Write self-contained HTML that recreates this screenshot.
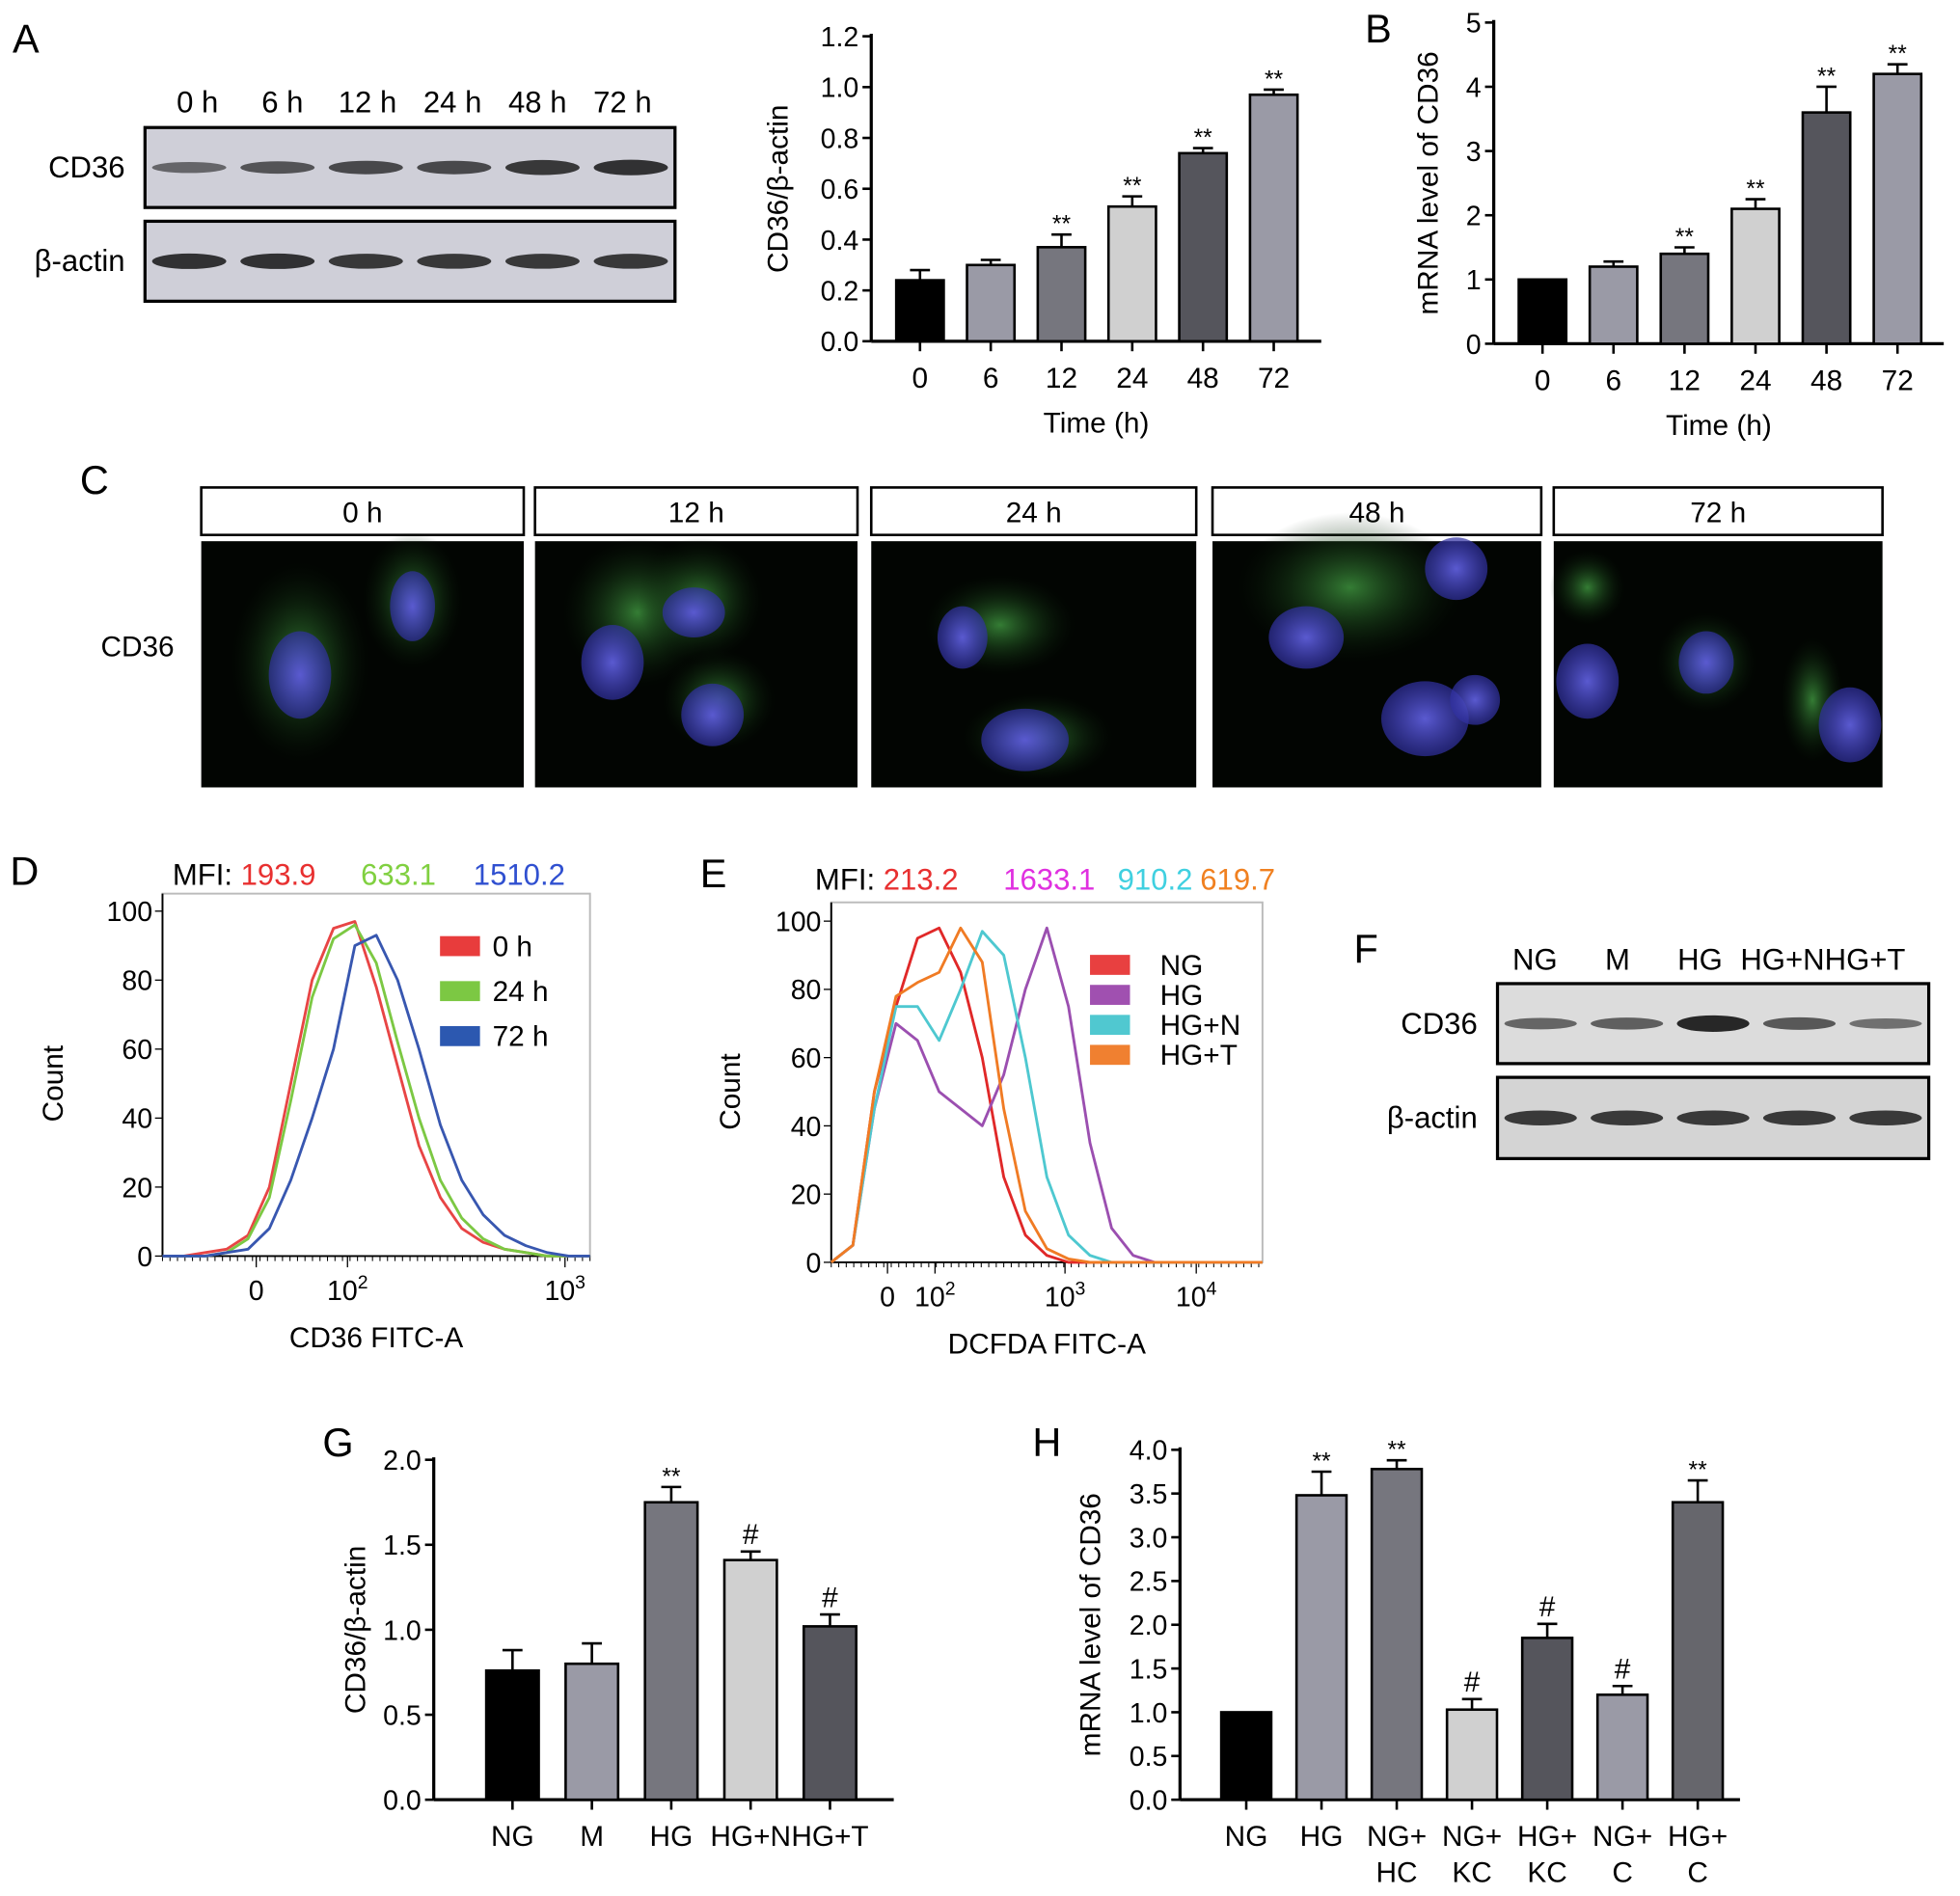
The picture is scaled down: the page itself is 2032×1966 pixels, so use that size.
<!DOCTYPE html>
<html><head><meta charset="utf-8"><style>
html,body{margin:0;padding:0;background:#fff}
svg{display:block;font-family:"Liberation Sans",sans-serif}
</style></head><body>
<svg id="fig" width="2032" height="1966" viewBox="0 0 1568 1517" xmlns="http://www.w3.org/2000/svg">
<defs>
<radialGradient id="gG"><stop offset="0" stop-color="#3a8a3a" stop-opacity="0.9"/><stop offset="1" stop-color="#0a200a" stop-opacity="0"/></radialGradient>
<radialGradient id="gB"><stop offset="0" stop-color="#5a5ad0"/><stop offset="1" stop-color="#3030a0" stop-opacity="0.7"/></radialGradient>
</defs>
<g id="root"></g>
</svg>
<script>
// ---- data ----
const timeCats=["0","6","12","24","48","72"];
const aVals=[0.24,0.30,0.37,0.53,0.74,0.97];
const aErr=[0.04,0.02,0.05,0.04,0.02,0.02];
const aSig=["","","**","**","**","**"];
const aTicks=[0,0.2,0.4,0.6,0.8,1.0,1.2];
const bVals=[1,1.2,1.4,2.1,3.6,4.2];
const bErr=[0,0.08,0.1,0.15,0.4,0.15];
const bSig=["","","**","**","**","**"];
const bTicks=[0,1,2,3,4,5];
const gCats=["NG","M","HG","HG+N","HG+T"];
const gVals=[0.76,0.80,1.75,1.41,1.02];
const gErr=[0.12,0.12,0.09,0.05,0.07];
const gSig=["","","**","#","#"];
const gTicks=[0,0.5,1.0,1.5,2.0];
const hCats=[["NG"],["HG"],["NG+","HC"],["NG+","KC"],["HG+","KC"],["NG+","C"],["HG+","C"]];
const hVals=[1,3.48,3.78,1.03,1.85,1.2,3.4];
const hErr=[0,0.27,0.1,0.12,0.16,0.1,0.25];
const hSig=["","**","**","#","#","#","**"];
const hTicks=[0,0.5,1.0,1.5,2.0,2.5,3.0,3.5,4.0];
const histChan=[0,5,10,15,20,25,30,35,40,45,50,55,60,65,70,75,80,85,90,95,100];
const d0h=[0,0,1,2,6,20,50,80,95,97,78,55,32,17,8,4,2,1,0,0,0];
const d24h=[0,0,0,1,5,17,45,75,92,96,85,62,40,22,11,5,2,1,0,0,0];
const d72h=[0,0,0,1,2,8,22,40,60,90,93,80,60,38,22,12,6,3,1,0,0];
const eNG=[0,5,50,75,95,98,85,60,25,8,2,0,0,0,0,0,0,0,0,0,0];
const eHG=[0,5,45,70,65,50,45,40,55,80,98,75,35,10,2,0,0,0,0,0,0];
const eHGN=[0,5,45,75,75,65,80,97,90,60,25,8,2,0,0,0,0,0,0,0,0];
const eHGT=[0,5,50,78,82,85,98,88,45,15,4,1,0,0,0,0,0,0,0,0,0];
const countTicks=[0,20,40,60,80,100];

const NS="http://www.w3.org/2000/svg";
const root=document.getElementById('root');
function mk(tag,attrs,parent,txt){const e=document.createElementNS(NS,tag);for(const k in attrs)e.setAttribute(k,attrs[k]);if(txt!==undefined)e.textContent=txt;(parent||root).appendChild(e);return e;}
function txt(x,y,s,size,name,anchor,fill,extra){const t=mk('text',Object.assign({x:x,y:y,'font-size':size,'text-anchor':anchor||'middle',fill:fill||'#000'},extra||{}),root,s);


return t;}

[["A",10,42],["B",1092,34],["C",64,395],["D",8,708],["E",560,710],["F",1083,770],["G",258,1165],["H",826,1165]].forEach(p=>{txt(p[1],p[2],p[0],32,'panel-label-'+p[0].toLowerCase(),'start');});

function barChart(o){
  const y=v=>o.y0-(v-o.min)/(o.max-o.min)*(o.y0-o.y1);
  const g=mk('g',{});
  
  
  mk('line',{x1:o.ax,y1:o.y0,x2:o.ax,y2:o.y1-2,stroke:'#000','stroke-width':2.5},g);
  mk('line',{x1:o.ax,y1:o.y0,x2:o.axEnd,y2:o.y0,stroke:'#000','stroke-width':2.5},g);
  o.ticks.forEach(t=>{mk('line',{x1:o.ax-7,y1:y(t),x2:o.ax,y2:y(t),stroke:'#000','stroke-width':2},g);
    const tl=txt(o.ax-10,y(t)+8,o.fmt(t),22,'y-tick-label','end');g.appendChild(tl);});
  o.vals.forEach((v,i)=>{
    const cx=o.x0+i*o.step;
    const r=mk('rect',{x:cx-o.bw/2,y:y(v),width:o.bw,height:o.y0-y(v),fill:o.colors[i],stroke:'#000','stroke-width':2},g);
    
    
    if(o.err[i]>0){const ye=y(v+o.err[i]);
      mk('line',{x1:cx,y1:y(v),x2:cx,y2:ye,stroke:'#000','stroke-width':2},g);
      mk('line',{x1:cx-8,y1:ye,x2:cx+8,y2:ye,stroke:'#000','stroke-width':2},g);}
    if(o.sig[i]){const s=txt(cx,y(v+o.err[i])-(o.sig[i]=='#'?6:2),o.sig[i],o.sig[i]=='#'?23:19,'significance-mark');g.appendChild(s);}
    mk('line',{x1:cx,y1:o.y0,x2:cx,y2:o.y0+8,stroke:'#000','stroke-width':2},g);
    const lab=Array.isArray(o.cats[i])?o.cats[i]:[o.cats[i]];
    lab.forEach((l,k)=>{const t=txt(cx,o.y0+37+k*29,l,23,'x-tick-label');g.appendChild(t);});
  });
  if(o.xtitle){const t=txt((o.ax+o.axEnd)/2,o.y0+73,o.xtitle,23,'x-axis-title');g.appendChild(t);}
  const yt=txt(0,0,o.ytitle,23,'y-axis-title','middle','#000',{transform:`translate(${o.ytx},${(o.y0+o.y1)/2}) rotate(-90)`});g.appendChild(yt);
}
const fmt1=t=>t.toFixed(1);
barChart({name:'chart-a-protein',ax:697,axEnd:1057,y0:273,y1:29,min:0,max:1.2,ticks:aTicks,fmt:fmt1,vals:aVals,err:aErr,sig:aSig,cats:timeCats,x0:736,step:56.6,bw:38,
 colors:['#000','#9a9aa6','#76767e','#d0d0d0','#55555c','#9a9aa6'],xtitle:'Time (h)',ytitle:'CD36/β-actin',ytx:630});
barChart({name:'chart-b-mrna',ax:1195,axEnd:1555,y0:275,y1:18,min:0,max:5,ticks:bTicks,fmt:t=>String(t),vals:bVals,err:bErr,sig:bSig,cats:timeCats,x0:1234,step:56.8,bw:38,
 colors:['#000','#9a9aa6','#76767e','#d0d0d0','#55555c','#9a9aa6'],xtitle:'Time (h)',ytitle:'mRNA level of CD36',ytx:1150});
barChart({name:'chart-g-protein',ax:347,axEnd:715,y0:1440,y1:1168,min:0,max:2,ticks:gTicks,fmt:fmt1,vals:gVals,err:gErr,sig:gSig,cats:gCats,x0:410,step:63.5,bw:42,
 colors:['#000','#9a9aa6','#76767e','#d0d0d0','#55555c'],ytitle:'CD36/β-actin',ytx:292});
barChart({name:'chart-h-mrna',ax:944,axEnd:1392,y0:1440,y1:1160,min:0,max:4,ticks:hTicks,fmt:fmt1,vals:hVals,err:hErr,sig:hSig,cats:hCats,x0:997,step:60.2,bw:40,
 colors:['#000','#9a9aa6','#76767e','#d0d0d0','#55555c','#9a9aa6','#66666c'],ytitle:'mRNA level of CD36',ytx:880});

function blot(name,x,y,w,h,labels,label,intens,bg){
  const g=mk('g',{});
  
  
  mk('rect',{x:x,y:y,width:w,height:h,fill:bg,stroke:'#000','stroke-width':2.5},g);
  const n=intens.length,sw=w/n;
  intens.forEach((v,i)=>{mk('ellipse',{cx:x+sw*(i+0.5),cy:y+h*0.5,rx:sw*0.42,ry:3+4*v,fill:'#111','fill-opacity':0.35+0.6*v},g);});
  const t=txt(x-16,y+h/2+8,label,24,'blot-row-label','end');g.appendChild(t);
}
const aLanes=["0 h","6 h","12 h","24 h","48 h","72 h"];
aLanes.forEach((l,i)=>txt(158+i*68,90,l,24,'lane-label'));
blot('blot-a-cd36',116,102,424,64,aLanes,'CD36',[0.35,0.5,0.6,0.6,0.75,0.8],'#cfcfd8');
blot('blot-a-actin',116,177,424,64,aLanes,'β-actin',[0.8,0.8,0.75,0.75,0.75,0.75],'#cfcfd8');
const fLanes=["NG","M","HG","HG+N","HG+T"];
fLanes.forEach((l,i)=>txt(1228+i*66,776,l,24,'lane-label'));
blot('blot-f-cd36',1198,787,345,64,fLanes,'CD36',[0.4,0.45,0.9,0.5,0.3],'#dcdcdc');
blot('blot-f-actin',1198,862,345,65,fLanes,'β-actin',[0.75,0.75,0.75,0.75,0.75],'#d4d4d4');

const cPanels=[[161,419,"0 h"],[428,686,"12 h"],[697,957,"24 h"],[970,1233,"48 h"],[1243,1506,"72 h"]];
const cells=[[[240,530,55,80,'g'],[240,540,25,35,'b'],[330,480,40,55,'g'],[330,485,18,28,'b']],
 [[510,490,60,60,'g'],[490,530,25,30,'b'],[560,480,50,50,'g'],[555,490,25,20,'b'],[575,560,45,40,'g'],[570,572,25,25,'b']],
 [[800,500,60,40,'g'],[770,510,20,25,'b'],[830,590,60,35,'g'],[820,592,35,25,'b']],
 [[1080,470,90,60,'g'],[1045,510,30,25,'b'],[1165,455,25,25,'b'],[1140,575,35,30,'b'],[1180,560,20,20,'b']],
 [[1270,470,30,30,'g'],[1270,545,25,30,'b'],[1365,530,40,40,'g'],[1365,530,22,25,'b'],[1450,560,25,50,'g'],[1480,580,25,30,'b']]];
cPanels.forEach((p,i)=>{
  const b=mk('rect',{x:p[0],y:390,width:p[1]-p[0],height:38,fill:'#fff',stroke:'#000','stroke-width':2});
  
  
  txt((p[0]+p[1])/2,418,p[2],23,'timepoint-label');
  const im=mk('rect',{x:p[0],y:433,width:p[1]-p[0],height:197,fill:'#020502'});
  
  
  cells[i].forEach(c=>mk('ellipse',{cx:c[0],cy:c[1],rx:c[2],ry:c[3],fill:c[4]=='g'?'url(#gG)':'url(#gB)'}));
});
txt(110,525,'CD36',23,'row-label');

function hist(o){
  const g=mk('g',{});
  
  
  const x=c=>o.x0+(c/100)*(o.x1-o.x0);
  const y=v=>o.yb-(v/100)*(o.yb-o.yt);
  mk('rect',{x:o.x0,y:o.boxTop,width:o.x1-o.x0,height:o.yb-o.boxTop,fill:'#fff',stroke:'#bbb','stroke-width':1.5},g);
  mk('line',{x1:o.x0,y1:o.boxTop,x2:o.x0,y2:o.yb,stroke:'#000','stroke-width':1.5},g);
  mk('line',{x1:o.x0,y1:o.yb,x2:o.x1,y2:o.yb,stroke:'#000','stroke-width':1.5},g);
  countTicks.forEach(t=>{mk('line',{x1:o.x0-6,y1:y(t),x2:o.x0,y2:y(t),stroke:'#000'},g);
    g.appendChild(txt(o.x0-8,y(t)+8,String(t),22,'y-tick-label','end'));});
  for(let px=o.x0;px<=o.x1;px+=6)mk('line',{x1:px,y1:o.yb,x2:px,y2:o.yb+4,stroke:'#000','stroke-width':0.8},g);
  o.xt.forEach(t=>{mk('line',{x1:t[0],y1:o.yb,x2:t[0],y2:o.yb+9,stroke:'#000'},g);
    const tt=txt(t[0],o.yb+35,t[1],22,'x-tick-label');if(t[2]){mk('tspan',{dy:-9,'font-size':15},tt,t[2]);}g.appendChild(tt);});
  o.series.forEach(s=>{
    const d=s[0].map((v,i)=>(i?'L':'M')+x(histChan[i]).toFixed(1)+','+y(v).toFixed(1)).join('');
    const p=mk('path',{d:d,fill:'none',stroke:s[1],'stroke-width':2.2,'stroke-linejoin':'round'},g);
    
    
  });
  g.appendChild(txt(0,0,'Count',23,'y-axis-title','middle','#000',{transform:`translate(${o.ytx},${(o.yt+o.yb)/2}) rotate(-90)`}));
  g.appendChild(txt((o.x0+o.x1)/2,o.yb+73,o.xtitle,23,'x-axis-title'));
  o.legend.forEach((l,i)=>{
    const r=mk('rect',{x:o.lx,y:o.ly+i*o.lstep,width:32,height:16,fill:l[1]},g);
    
    
    g.appendChild(txt(o.lx+(o.ltx||42),o.ly+i*o.lstep+16,l[0],23,'legend-entry','start'));
  });
}
hist({name:'histogram-d',x0:130,x1:472,yb:1005,yt:729,boxTop:715,ytx:50,xtitle:'CD36 FITC-A',
 xt:[[205,'0'],[278,'10','2'],[452,'10','3']],
 series:[[d0h,'#e84545','0h'],[d24h,'#7cc843','24h'],[d72h,'#3857b0','72h']],
 legend:[['0 h','#e83c3c'],['24 h','#7cc843'],['72 h','#2c58b0']],lx:352,ly:749,lstep:36});
hist({name:'histogram-e',x0:665,x1:1010,yb:1010,yt:737,boxTop:722,ytx:592,xtitle:'DCFDA FITC-A',
 xt:[[710,'0'],[748,'10','2'],[852,'10','3'],[957,'10','4']],
 series:[[eNG,'#e02828','NG'],[eHG,'#9b4fb0','HG'],[eHGN,'#4ec8d0','HGN'],[eHGT,'#f07b24','HGT']],
 legend:[['NG','#e84040'],['HG','#a050b0'],['HG+N','#50c8d0'],['HG+T','#f08030']],lx:872,ly:764,lstep:24,ltx:56});
function mfi(x,y,parts){const t=txt(x,y,'',24,'mfi-label','start');parts.forEach(p=>mk('tspan',{fill:p[1],dx:p[2]||0},t,p[0]));}
mfi(138,708,[['MFI: ','#000'],['193.9','#e83030'],['633.1','#80d040',36],['1510.2','#3050d0',30]]);
mfi(652,712,[['MFI: ','#000'],['213.2','#e83030'],['1633.1','#e030e0',36],['910.2','#40d0e0',18],['619.7','#f08020',6]]);
</script>
</body></html>
